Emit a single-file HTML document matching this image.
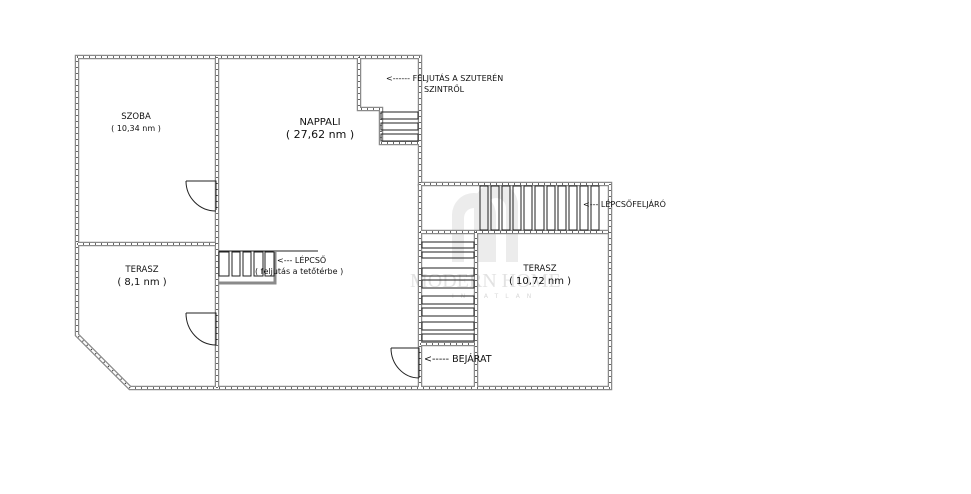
<!DOCTYPE html>
<html><head><meta charset="utf-8"><style>
html,body{margin:0;padding:0;background:#fff;}
svg{display:block}
text{font-family:"DejaVu Sans","Liberation Sans",sans-serif;fill:#111}
</style></head><body>
<svg width="971" height="494" viewBox="0 0 971 494" xmlns="http://www.w3.org/2000/svg">
<defs>
<g id="walls">
<path d="M77 57 H420 V184 H610 V388 H130 L77 335 Z"/>
<path d="M217 57 V388"/>
<path d="M77 244 H217"/>
<path d="M359 57 V109 H381 V143 H420"/>
<path d="M476 232 V388"/>
<path d="M476 232 H610"/>
<path d="M420 232 H476"/>
<path d="M420 344 H476"/>
<path d="M420 184 V388"/>
</g>
</defs>
<!-- watermark -->
<g fill="#ececec">
<path d="M452 262 V215 a22 22 0 0 1 44 0 V262 h-12 V218 a10 10 0 0 0 -20 0 V262z"/>
<path d="M474 262 V205 a22 22 0 0 1 44 0 V262 h-12 V208 a10 10 0 0 0 -20 0 V262z"/>
</g>
<text x="410" y="287" font-size="20" style="fill:#e2e2e2;font-family:'Liberation Serif',serif">MODERN HOME</text>
<text x="452" y="298" font-size="6" style="fill:#d8d8d8" letter-spacing="7">INGATLAN</text>

<g fill="none" stroke="#8a8a8a" stroke-width="4.5"><use href="#walls"/></g>
<g fill="none" stroke="#fff" stroke-width="2"><use href="#walls"/></g>
<g fill="none" stroke="#333" stroke-width="1.5" stroke-dasharray="1 5"><use href="#walls"/></g>
<g fill="none" stroke="#222" stroke-width="1">
<rect x="381" y="112" width="37" height="7"/>
<rect x="381" y="123" width="37" height="7"/>
<rect x="381" y="134" width="37" height="7"/>
<path d="M219 251 H318"/>
<path d="M219 283 H275 V251" stroke="#8a8a8a" stroke-width="3"/>
<rect x="219" y="252" width="10" height="24"/>
<rect x="232" y="252" width="8" height="24"/>
<rect x="243" y="252" width="8" height="24"/>
<rect x="254" y="252" width="9" height="24"/>
<rect x="265" y="252" width="9" height="24"/>
<rect x="480" y="186" width="8" height="44"/>
<rect x="491" y="186" width="8" height="44"/>
<rect x="502" y="186" width="8" height="44"/>
<rect x="513" y="186" width="8" height="44"/>
<rect x="524" y="186" width="8" height="44"/>
<rect x="535" y="186" width="9" height="44"/>
<rect x="547" y="186" width="8" height="44"/>
<rect x="558" y="186" width="8" height="44"/>
<rect x="569" y="186" width="8" height="44"/>
<rect x="580" y="186" width="8" height="44"/>
<rect x="591" y="186" width="8" height="44"/>
<rect x="422" y="242" width="52" height="6"/>
<rect x="422" y="252" width="52" height="6"/>
<rect x="422" y="268" width="52" height="8"/>
<rect x="422" y="280" width="52" height="8"/>
<rect x="422" y="296" width="52" height="8"/>
<rect x="422" y="308" width="52" height="8"/>
<rect x="422" y="322" width="52" height="8"/>
<rect x="422" y="334" width="52" height="7"/>
<path d="M186 181 H216 V210"/><path d="M186 181 A30 30 0 0 0 216 211"/>
<path d="M186 313 H216 V345"/><path d="M186 313 A30 32 0 0 0 216 345"/>
<path d="M391 348 H419 V378"/><path d="M391 348 A28 30 0 0 0 419 378"/>
</g>
<g font-size="8.5">
<text x="136" y="119" text-anchor="middle">SZOBA</text>
<text x="136" y="131" text-anchor="middle" font-size="8">( 10,34 nm )</text>
<text x="320" y="125" text-anchor="middle" font-size="10">NAPPALI</text>
<text x="320" y="138" text-anchor="middle" font-size="11">( 27,62 nm )</text>
<text x="142" y="272" text-anchor="middle">TERASZ</text>
<text x="142" y="285" text-anchor="middle" font-size="10">( 8,1 nm )</text>
<text x="540" y="271" text-anchor="middle">TERASZ</text>
<text x="540" y="284" text-anchor="middle" font-size="10">( 10,72 nm )</text>
<text x="386" y="81" font-size="8">&lt;------ FELJUTÁS A SZUTERÉN</text>
<text x="424" y="92" font-size="8">SZINTRŐL</text>
<text x="277" y="263" font-size="8">&lt;--- LÉPCSŐ</text>
<text x="255" y="274" font-size="8">( feljutás a tetőtérbe )</text>
<text x="583" y="207" font-size="8">&lt;--- LÉPCSŐFELJÁRÓ</text>
<text x="424" y="362" font-size="9.5">&lt;----- BEJÁRAT</text>
</g>
</svg>
</body></html>
